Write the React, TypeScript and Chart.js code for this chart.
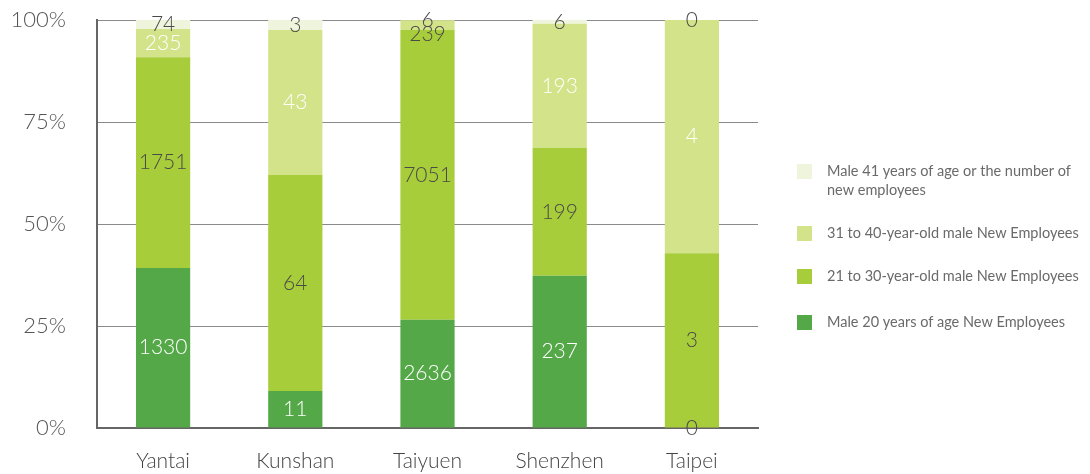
import React, { useEffect, useRef } from "react";
import { Chart, registerables } from "chart.js";

Chart.register(...registerables);

const categories = ["Yantai", "Kunshan", "Taiyuen", "Shenzhen", "Taipei"];
const seriesNames = [
  "Male 20 years of age New Employees",
  "21 to 30-year-old male New Employees",
  "31 to 40-year-old male New Employees",
  "Male 41 years of age or the number of new employees",
];
const male20 = [1330, 11, 2636, 237, 0];
const male21to30 = [1751, 64, 7051, 199, 3];
const male31to40 = [235, 43, 239, 193, 4];
const male41plus = [74, 3, 6, 6, 0];
const yTickValues = [0, 25, 50, 75, 100];

const seriesColors = ["#54a847", "#a8cd3a", "#d3e38a", "#eff5dc"];
const labelColors = ["#ffffff", "#4a4a4a", "#ffffff", "#4a4a4a"];
const DARK = "#4a4a4a";
const FONT = "Lato, 'Liberation Sans', sans-serif";

const rawSeries = [male20, male21to30, male31to40, male41plus];
const totals = categories.map((_, i) => rawSeries.reduce((s, arr) => s + arr[i], 0));
const pctSeries = rawSeries.map((arr) => arr.map((v, i) => (totals[i] ? (v / totals[i]) * 100 : 0)));

const valueLabelPlugin = {
  id: "valueLabels",
  afterDatasetsDraw(chart: any) {
    const ctx = chart.ctx;
    ctx.save();
    ctx.font = `300 21px ${FONT}`;
    ctx.textAlign = "center";
    ctx.textBaseline = "middle";
    const n = chart.data.labels.length;
    const nd = chart.data.datasets.length;
    for (let i = 0; i < n; i++) {
      let prevY = -Infinity;
      for (let di = nd - 1; di >= 0; di--) {
        const el: any = chart.getDatasetMeta(di).data[i];
        const { x, y, base } = el.getProps(["x", "y", "base"], true);
        let cy = (y + base) / 2;
        if (cy < prevY + 14) cy = prevY + 14;
        prevY = cy;
        const pct = pctSeries[di][i];
        ctx.fillStyle = pct < 4 ? DARK : labelColors[di];
        ctx.fillText(String(rawSeries[di][i]), x, cy);
      }
    }
    ctx.restore();
  },
};

function wrapText(ctx: CanvasRenderingContext2D, text: string, maxW: number): string[] {
  const words = text.split(" ");
  const lines: string[] = [];
  let cur = "";
  for (const w of words) {
    const t = cur ? cur + " " + w : w;
    if (ctx.measureText(t).width > maxW && cur) {
      lines.push(cur);
      cur = w;
    } else cur = t;
  }
  if (cur) lines.push(cur);
  return lines;
}

const legendPlugin = {
  id: "sideLegend",
  afterDraw(chart: any) {
    const ctx = chart.ctx;
    const area = chart.chartArea;
    ctx.save();
    ctx.font = `14.5px ${FONT}`;
    ctx.textAlign = "left";
    ctx.textBaseline = "middle";
    const boxX = area.right + 39;
    const textX = area.right + 69;
    let y = 171;
    const lineH = 19;
    const gap = 43;
    for (let k = seriesNames.length - 1; k >= 0; k--) {
      const lines = wrapText(ctx, seriesNames[k], 255);
      ctx.fillStyle = seriesColors[k];
      ctx.fillRect(boxX, y - 7, 15, 15);
      ctx.fillStyle = "#6a6a6a";
      lines.forEach((ln, li) => ctx.fillText(ln, textX, y + li * lineH));
      y += (lines.length - 1) * lineH + gap + (k === 1 ? 3 : 0);
    }
    ctx.restore();
  },
};

export default function App() {
  const ref = useRef<HTMLCanvasElement>(null);
  useEffect(() => {
    document.body.style.margin = "0";
    const chart = new Chart(ref.current!, {
      type: "bar",
      data: {
        labels: categories,
        datasets: pctSeries.map((data, k) => ({
          label: seriesNames[k],
          data,
          backgroundColor: seriesColors[k],
          borderWidth: 0,
          barPercentage: 0.41,
          categoryPercentage: 1,
        })),
      },
      options: {
        animation: false,
        responsive: false,
        maintainAspectRatio: false,
        layout: { padding: { left: 8, right: 332, top: 20, bottom: 0 } },
        plugins: { legend: { display: false }, tooltip: { enabled: false } },
        scales: {
          x: {
            stacked: true,
            grid: { display: false, drawTicks: false },
            border: { display: true, color: "#666666", width: 2 },
            ticks: { color: "#444444", font: { family: FONT, size: 21, weight: "300" }, padding: 21 },
            afterFit: (s: any) => {
              s.height = 46;
              s.paddingLeft = 0;
              s.paddingRight = 0;
            },
          },
          y: {
            stacked: true,
            min: 0,
            max: 100,
            afterBuildTicks: (axis: any) => {
              axis.ticks = yTickValues.map((v) => ({ value: v }));
            },
            grid: { color: "#8a8a8a", lineWidth: 1, drawTicks: false },
            border: { display: true, color: "#666666", width: 2 },
            ticks: {
              color: "#555555",
              font: { family: FONT, size: 22, weight: "300" },
              padding: 31,
              callback: (v: any) => `${v}%`,
            },
            afterFit: (s: any) => {
              s.width = 89;
              s.paddingTop = 0;
              s.paddingBottom = 0;
            },
          },
        },
      },
      plugins: [valueLabelPlugin, legendPlugin],
    });
    return () => chart.destroy();
  }, []);
  return (
    <div style={{ width: 1090, height: 474 }}>
      <canvas ref={ref} width={1090} height={474} style={{ width: 1090, height: 474 }} />
    </div>
  );
}
